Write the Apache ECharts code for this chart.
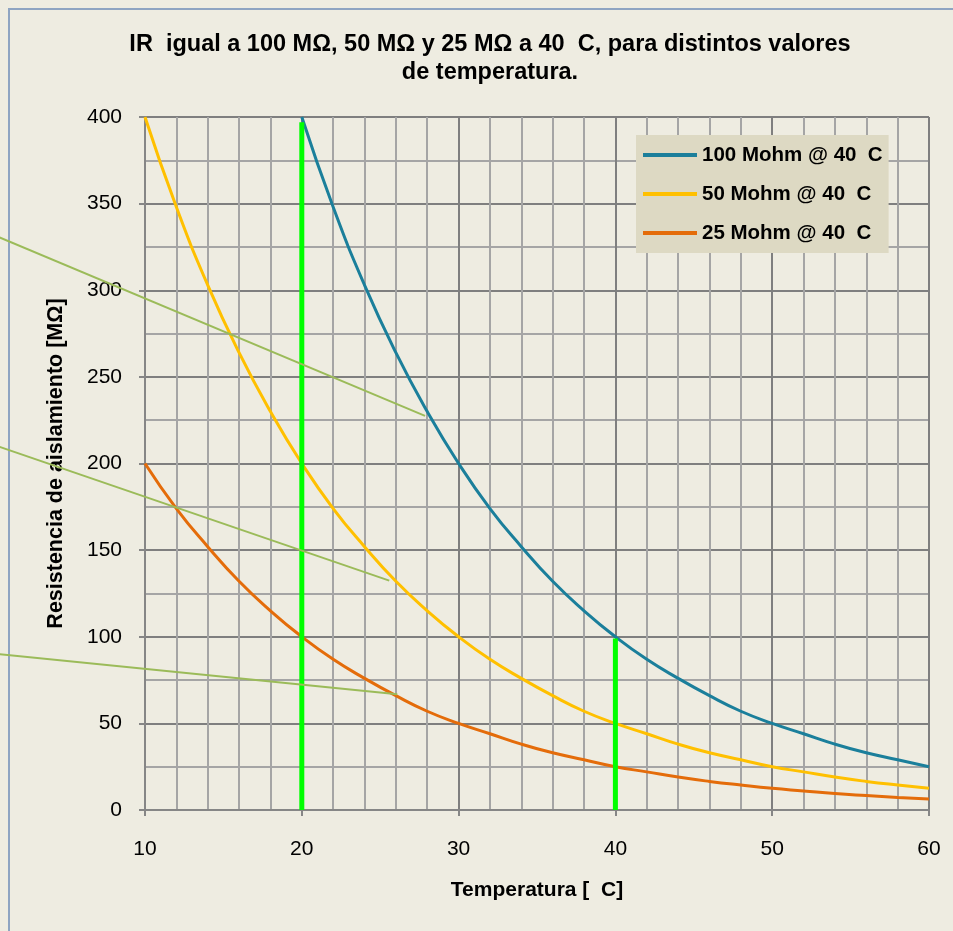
<!DOCTYPE html>
<html>
<head>
<meta charset="utf-8">
<script src="https://cdn.jsdelivr.net/npm/echarts@6/dist/echarts.min.js"></script>
<style>html,body{margin:0;padding:0;background:#EEECE1;}#c{width:953px;height:931px;}</style>
</head>
<body>
<div id="c"></div>
<script>
// ---- data ----
const titleText = 'IR  igual a 100 MΩ, 50 MΩ y 25 MΩ a 40  C, para distintos valores\nde temperatura.';
const xName = 'Temperatura [  C]';
const yName = 'Resistencia de aislamiento [MΩ]';
const seriesNames = ['100 Mohm @ 40  C', '50 Mohm @ 40  C', '25 Mohm @ 40  C'];

const temp100 = [20,22,24,26,28,30,32,34,36,38,40,42,44,46,48,50,52,54,56,58,60];
const ir100   = [400,348,303,264,230,200,174,152,132,115,100,87,76,66,57,50,44,38,33,29,25];

const tempAll = [10,12,14,16,18,20,22,24,26,28,30,32,34,36,38,40,42,44,46,48,50,52,54,56,58,60];
const ir50    = [400,348,303,264,230,200,174,152,132,115,100,87,76,66,57,50,44,38,33,29,25,22,19,16.5,14.4,12.5];
const ir25    = [200,174,152,132,115,100,87,76,66,57,50,44,38,33,29,25,22,19,16.5,14.4,12.5,11,9.5,8.3,7.2,6.3];

// vertical marker lines [x, y]
const marker20 = [[20,0],[20,397]];
const marker40 = [[40,0],[40,99]];

// annotation leader lines [x1, y1, x2, y2]
const leaders = [
  [0.6, 331, 27.86, 227.5],
  [0.6, 210, 25.58, 132.4],
  [0.6, 90, 26.09, 66.8]
];

const xMin = 10, xMax = 60, xInterval = 10;
const yMin = 0, yMax = 400, yInterval = 50;

// ---- chart ----
const FONT = '"Liberation Sans", Arial, sans-serif';
const chart = echarts.init(document.getElementById('c'), null, {renderer: 'canvas'});
const zip = (xs, ys) => xs.map((x, i) => [x, ys[i]]);
const colors = ['#1B7F9B', '#FFC000', '#E46C0A'];

function curve(name, data, color) {
  return {name, type: 'line', data, smooth: true, symbol: 'none', z: 5,
    lineStyle: {color, width: 3}, itemStyle: {color}};
}
function plain(data, color, width, z) {
  return {type: 'line', data, symbol: 'none', z, silent: true,
    lineStyle: {color, width}, itemStyle: {color}};
}

chart.setOption({
  backgroundColor: '#EEECE1',
  animation: false,
  textStyle: {fontFamily: FONT},
  title: {
    text: titleText, left: 490, top: 31, textAlign: 'center', padding: 0,
    textStyle: {fontFamily: FONT, fontSize: 23.5, fontWeight: 'bold', color: '#000', lineHeight: 28}
  },
  graphic: [{
    type: 'rect', shape: {x: 9, y: 9, width: 1000, height: 1000},
    style: {fill: 'none', stroke: '#8EA4C2', lineWidth: 2}, z: -1, silent: true
  }],
  legend: {
    data: seriesNames, orient: 'vertical', left: 636, top: 135,
    backgroundColor: '#DDD9C3', padding: [9, 6, 9, 7],
    icon: 'rect', itemWidth: 54, itemHeight: 4, itemGap: 17,
    textStyle: {fontFamily: FONT, fontSize: 20.5, fontWeight: 'bold', color: '#000', lineHeight: 22}
  },
  grid: {left: 145, right: 24, top: 117, bottom: 121, containLabel: false},
  xAxis: {
    type: 'value', min: xMin, max: xMax, interval: xInterval,
    name: xName, nameLocation: 'middle', nameGap: 70,
    nameTextStyle: {fontFamily: FONT, fontSize: 21, fontWeight: 'bold', color: '#000'},
    axisLine: {show: true, lineStyle: {color: '#868686', width: 2}},
    axisTick: {show: true, length: 6, lineStyle: {color: '#868686', width: 2}},
    axisLabel: {margin: 29, fontFamily: FONT, fontSize: 21, color: '#000'},
    splitLine: {show: true, lineStyle: {color: '#7F7F7F', width: 2}},
    minorTick: {show: false, splitNumber: 5},
    minorSplitLine: {show: true, lineStyle: {color: '#A5A5A5', width: 2}}
  },
  yAxis: {
    type: 'value', min: yMin, max: yMax, interval: yInterval,
    name: yName, nameLocation: 'middle', nameGap: 78, nameRotate: 90,
    nameTextStyle: {fontFamily: FONT, fontSize: 21.5, fontWeight: 'bold', color: '#000'},
    axisLine: {show: true, lineStyle: {color: '#868686', width: 2}},
    axisTick: {show: true, length: 6, lineStyle: {color: '#868686', width: 2}},
    axisLabel: {margin: 23, fontFamily: FONT, fontSize: 21, color: '#000'},
    splitLine: {show: true, lineStyle: {color: '#7F7F7F', width: 2}},
    minorTick: {show: false, splitNumber: 2},
    minorSplitLine: {show: true, lineStyle: {color: '#A5A5A5', width: 2}}
  },
  series: [
    curve(seriesNames[0], zip(temp100, ir100), colors[0]),
    curve(seriesNames[1], zip(tempAll, ir50), colors[1]),
    curve(seriesNames[2], zip(tempAll, ir25), colors[2]),
    plain(marker20, '#00FF00', 5, 6),
    plain(marker40, '#00FF00', 5, 6),
    {
      type: 'custom', data: leaders, clip: false, z: 7, silent: true,
      encode: {x: [0, 2], y: [1, 3]},
      renderItem: function (params, api) {
        const p1 = api.coord([api.value(0), api.value(1)]);
        const p2 = api.coord([api.value(2), api.value(3)]);
        return {type: 'line', shape: {x1: p1[0], y1: p1[1], x2: p2[0], y2: p2[1]},
          style: {stroke: '#9BBB59', lineWidth: 2}};
      }
    }
  ]
});
</script>
</body>
</html>
